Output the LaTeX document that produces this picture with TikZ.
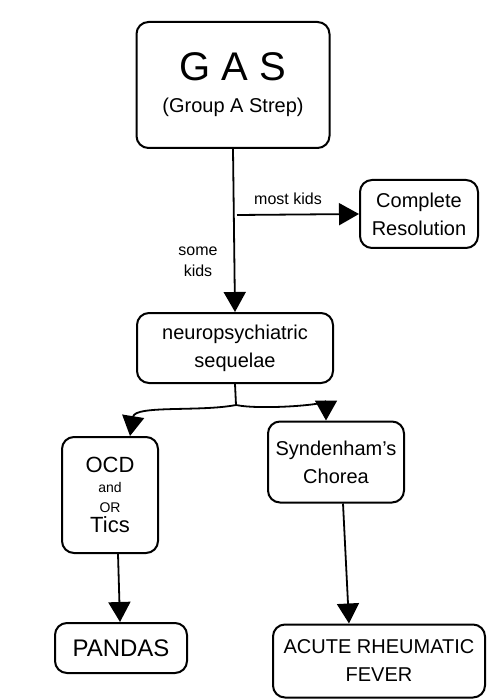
\documentclass[tikz,border=0pt]{standalone}
\usepackage{fontspec}
\setmainfont{Liberation Sans}
\usetikzlibrary{arrows.meta}
\begin{document}
\begin{tikzpicture}[
    x=1pt, y=-1pt,
    box/.style={rectangle, rounded corners=12pt, draw, line width=2pt, align=center, font=\fontsize{20}{28}\selectfont, inner sep=2pt},
    link/.style={line width=1.8pt, -{Triangle[length=20pt, width=22pt]}},
    lbl/.style={font=\fontsize{16}{21}\selectfont, align=center}
]
\useasboundingbox (0,0) rectangle (494,700);
\node[box, minimum width=193pt, minimum height=126pt] (gas) at (233,85)
    {{\fontsize{40}{44}\selectfont G A S}\\[4pt] (Group A Strep)};
\node[box, minimum width=118pt, minimum height=68pt] (res) at (419,214) {Complete\\Resolution};
\node[box, minimum width=196pt, minimum height=70pt] (neuro) at (235,348) {neuropsychiatric\\sequelae};
\node[box, minimum width=96pt, minimum height=116pt, font=\fontsize{22}{20}\selectfont] (ocd) at (110,495)
    {OCD\\{\fontsize{14}{16}\selectfont and}\\{\fontsize{14}{16}\selectfont OR}\\Tics};
\node[box, minimum width=136pt, minimum height=81pt] (chorea) at (336,462) {Syndenham's\\Chorea};
\node[box, minimum width=132pt, minimum height=50pt, font=\fontsize{24}{28}\selectfont] (pandas) at (121,648) {PANDAS};
\node[box, minimum width=212pt, minimum height=73pt] (arf) at (379,661) {ACUTE RHEUMATIC\\FEVER};
% main stem
\draw[link] (gas.south) -- (neuro.north);
\coordinate (fork) at (237,215);
\draw[link] (fork) -- (res.west);
\node[lbl] (most) at (288,199) {most kids};
\node[lbl] (some) at (198,262) {some\\kids};
% split below sequelae
\coordinate (split) at (236,405);
\draw[line width=1.8pt] (neuro.south) -- (split);
\draw[link] (split) .. controls (200,412) and (135,405) .. (ocd.north -| 130,0);
\draw[link] (split) .. controls (260,410) and (326,405) .. (chorea.north -| 326,0);
% lower arrows
\draw[link] (ocd.south -| 118,0) -- (pandas.north -| 120,0);
\draw[link] (chorea.south -| 343,0) -- (arf.north -| 349,0);
\end{tikzpicture}
\end{document}
